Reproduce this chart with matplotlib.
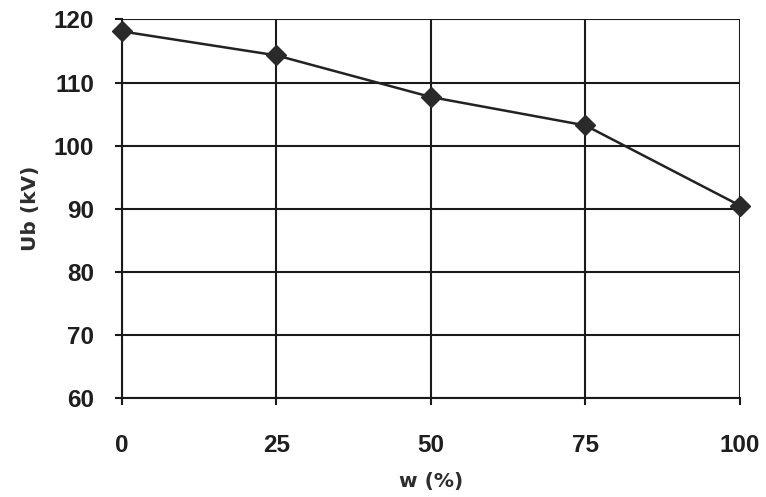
import numpy as np
import matplotlib.pyplot as plt

# breakdown voltage vs. water content
w_pct = [0, 25, 50, 75, 100]
ub_kv = [118.1, 114.3, 107.7, 103.2, 90.5]
y_ticks = [60, 70, 80, 90, 100, 110, 120]

plt.rcParams['font.family'] = ['Liberation Sans', 'DejaVu Sans']

fig = plt.figure(figsize=(7.66, 4.97), dpi=100)
ax = fig.add_axes([0.159, 0.199, 0.807, 0.762])

ax.plot(w_pct, ub_kv, color='#222222', lw=1.8, marker='D', ms=10,
        mfc='#2a2a2a', mec='#2a2a2a', zorder=5, clip_on=False)

ax.set_xlim(0, 100)
ax.set_ylim(60, 120)
ax.set_xticks(w_pct)
ax.set_yticks(y_ticks)
ax.grid(True, color='#1a1a1a', lw=1.5)
ax.set_axisbelow(True)

for side in ['top', 'right']:
    ax.spines[side].set_visible(False)
for side in ['left', 'bottom']:
    ax.spines[side].set_color('#1a1a1a')
    ax.spines[side].set_linewidth(1.5)

ax.tick_params(axis='both', direction='out', length=5, width=1.5,
               color='#1a1a1a', labelsize=17.5, labelcolor='#1e1e1e')
ax.tick_params(axis='x', pad=21)
ax.tick_params(axis='y', pad=15)
for lbl in ax.get_xticklabels() + ax.get_yticklabels():
    lbl.set_fontweight('bold')

ax.set_xlabel('w (%)', fontsize=14.5, fontweight='bold', color='#2e2e2e',
              family='DejaVu Sans', labelpad=11)
ax.set_ylabel('Ub (kV)', fontsize=14.5, fontweight='bold', color='#2e2e2e',
              family='DejaVu Sans', labelpad=10)

fig.savefig('out.png', dpi=100)
